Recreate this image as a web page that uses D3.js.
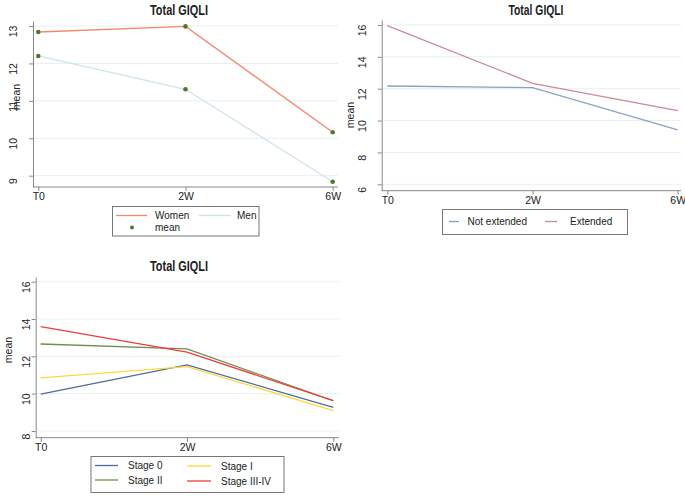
<!DOCTYPE html>
<html>
<head>
<meta charset="utf-8">
<script src="https://cdn.jsdelivr.net/npm/d3@7"></script>
<style>
  body { margin: 0; background: #fff; }
  svg { display: block; }
  .title { font-family: "Liberation Sans Narrow", "Liberation Sans", Arial, sans-serif; font-weight: bold; font-size: 14px; }
  text { font-family: "Liberation Sans", Arial, sans-serif; fill: #222; }
</style>
</head>
<body>
<div id="chart"></div>
<script>
// x categories
var times = ["T0", "2W", "6W"];

// panel 1: sex
var womenMean = [12.84, 12.99, 10.16];
var menMean = [12.2, 11.31, 8.84];
var ticksSex = [9, 10, 11, 12, 13];

// panel 2: extended or not
var notExtended = [12.17, 12.07, 9.41];
var extended = [15.96, 12.34, 10.62];
var ticksExt = [6, 8, 10, 12, 14, 16];

// panel 3: stage
var stage0 = [9.98, 11.54, 9.27];
var stageI = [10.84, 11.45, 9.09];
var stageII = [12.66, 12.40, 9.62];
var stageIIIIV = [13.59, 12.22, 9.63];
var ticksStage = [8, 10, 12, 14, 16];

var svg = d3.select("#chart")
    .append("svg")
    .attr("width", 685)
    .attr("height", 497);

// draws one Stata-like panel
function drawPanel(p) {
    var g = svg.append("g");

    var x = d3.scalePoint().domain(times).range([p.x0, p.x1]);
    var y = d3.scaleLinear().domain(p.yDomain).range([p.bottom, p.top]);

    // grid lines
    g.selectAll(".grid")
        .data(p.ticks)
        .enter()
        .append("line")
        .attr("x1", p.axisX)
        .attr("x2", p.right)
        .attr("y1", d => y(d))
        .attr("y2", d => y(d))
        .attr("stroke", "#e6f0f1")
        .attr("stroke-width", 1);

    // y axis
    var yAxis = g.append("g")
        .attr("transform", `translate(${p.axisX},0)`)
        .call(d3.axisLeft(y).tickValues(p.ticks).tickSize(4).tickSizeOuter(0).tickFormat(d3.format("d")));
    yAxis.select(".domain").attr("stroke", "#888");
    yAxis.selectAll(".tick line").attr("stroke", "#888");
    yAxis.selectAll(".tick text")
        .attr("x", 0).attr("y", 0).attr("dy", 0)
        .attr("text-anchor", "middle")
        .attr("dominant-baseline", "central")
        .attr("font-size", "10.5px")
        .attr("fill", "#222")
        .attr("transform", `translate(${-p.labelOff},5) rotate(-90)`);

    // x axis
    var xAxis = g.append("g")
        .attr("transform", `translate(0,${p.bottom})`)
        .call(d3.axisBottom(x).tickSize(4).tickSizeOuter(0));
    xAxis.select(".domain").attr("d", `M${p.axisX},0H${p.right}`).attr("stroke", "#888");
    xAxis.selectAll(".tick line").attr("stroke", "#888");
    xAxis.selectAll(".tick text")
        .attr("y", 6)
        .attr("font-size", "10.5px")
        .attr("fill", "#222");

    // y axis title
    g.append("text")
        .attr("transform", `translate(${p.meanX},${p.meanY}) rotate(-90)`)
        .attr("text-anchor", "middle")
        .attr("dominant-baseline", "central")
        .attr("font-size", "10.5px")
        .text("mean");

    // title (narrow face squeezed to fit)
    g.append("text")
        .attr("class", "title")
        .attr("x", p.titleX - p.titleW / 2)
        .attr("y", p.titleY)
        .attr("textLength", p.titleW)
        .attr("lengthAdjust", "spacingAndGlyphs")
        .text("Total GIQLI");

    var line = d3.line()
        .x((d, i) => x(times[i]))
        .y(d => y(d));

    p.series.forEach(function (s) {
        g.append("path")
            .datum(s.values)
            .attr("d", line)
            .attr("fill", "none")
            .attr("stroke", s.color)
            .attr("stroke-width", 1.3);
    });

    if (p.dots) {
        p.dots.forEach(function (vals) {
            g.selectAll(null)
                .data(vals)
                .enter()
                .append("circle")
                .attr("cx", (d, i) => x(times[i]))
                .attr("cy", d => y(d))
                .attr("r", 2.3)
                .attr("fill", "#4b7a2b");
        });
    }

    // legend
    var lg = p.legend;
    g.append("rect")
        .attr("x", lg.x).attr("y", lg.y)
        .attr("width", lg.w).attr("height", lg.h)
        .attr("fill", "#fff")
        .attr("stroke", "#777")
        .attr("stroke-width", 1);
    lg.items.forEach(function (it) {
        if (it.dot) {
            g.append("circle")
                .attr("cx", (it.lx1 + it.lx2) / 2).attr("cy", it.ly)
                .attr("r", 2).attr("fill", "#4b7a2b");
        } else {
            g.append("line")
                .attr("x1", it.lx1).attr("x2", it.lx2)
                .attr("y1", it.ly).attr("y2", it.ly)
                .attr("stroke", it.color).attr("stroke-width", 1.3);
        }
        g.append("text")
            .attr("x", it.tx).attr("y", it.ly)
            .attr("dominant-baseline", "central")
            .attr("font-size", "10px")
            .text(it.label);
    });
}

drawPanel({
    x0: 38.3, x1: 332.7, axisX: 33, right: 338,
    top: 21, bottom: 187, yDomain: [8.698, 13.134], ticks: ticksSex,
    labelOff: 20, meanX: 16, meanY: 97, titleX: 179, titleY: 15, titleW: 58,
    series: [
        { values: womenMean, color: "#f4896a" },
        { values: menMean, color: "#cce4ec" }
    ],
    dots: [womenMean, menMean],
    legend: {
        x: 112.5, y: 206.5, w: 146.5, h: 29.5,
        items: [
            { label: "Women", color: "#f4896a", lx1: 116, lx2: 147, ly: 215.5, tx: 155 },
            { label: "Men", color: "#cce4ec", lx1: 199, lx2: 231, ly: 215.5, tx: 237 },
            { label: "mean", dot: true, lx1: 130, lx2: 134, ly: 227.5, tx: 155 }
        ]
    }
});

drawPanel({
    x0: 387.3, x1: 677.7, axisX: 381.7, right: 681,
    top: 20, bottom: 190.7, yDomain: [5.6, 16.31], ticks: ticksExt,
    labelOff: 20, meanX: 350, meanY: 115, titleX: 536, titleY: 15, titleW: 55,
    series: [
        { values: notExtended, color: "#88a2c6" },
        { values: extended, color: "#cb8b92" }
    ],
    legend: {
        x: 442.5, y: 209.5, w: 185, h: 25,
        items: [
            { label: "Not extended", color: "#88a2c6", lx1: 449, lx2: 459, ly: 221.5, tx: 467.5 },
            { label: "Extended", color: "#cb8b92", lx1: 545, lx2: 557, ly: 221.5, tx: 570 }
        ]
    }
});

drawPanel({
    x0: 40.7, x1: 333.3, axisX: 35.7, right: 339,
    top: 277, bottom: 437.7, yDomain: [7.64, 16.25], ticks: ticksStage,
    labelOff: 10, meanX: 8, meanY: 350, titleX: 179, titleY: 271, titleW: 58,
    series: [
        { values: stage0, color: "#4c6c9c" },
        { values: stageI, color: "#fcd83e" },
        { values: stageII, color: "#6e8f4e" },
        { values: stageIIIIV, color: "#ef3b3b" }
    ],
    legend: {
        x: 91, y: 456.5, w: 193, h: 36,
        items: [
            { label: "Stage 0", color: "#4c6c9c", lx1: 95, lx2: 118, ly: 465.5, tx: 128 },
            { label: "Stage I", color: "#fcd83e", lx1: 187, lx2: 211, ly: 466, tx: 221 },
            { label: "Stage II", color: "#6e8f4e", lx1: 95, lx2: 118, ly: 480, tx: 128 },
            { label: "Stage III-IV", color: "#ef3b3b", lx1: 187, lx2: 211, ly: 481, tx: 221 }
        ]
    }
});
</script>
</body>
</html>
